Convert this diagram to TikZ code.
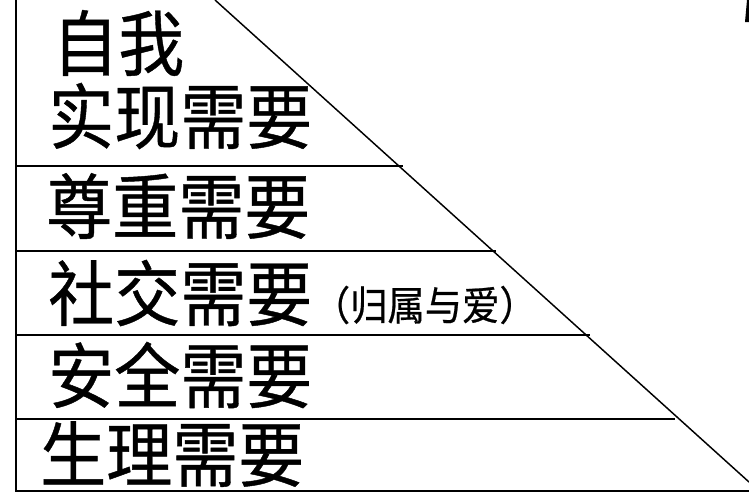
\documentclass[tikz,border=0pt]{standalone}
\usepackage{fontspec}
\setmainfont{Noto Sans CJK SC}
\newfontfamily\levelfont{Noto Sans CJK SC}[FakeBold=0.6]
\newcommand{\tallcjk}[1]{\scalebox{1}[1.08]{#1}}
\usetikzlibrary{positioning}
\begin{document}
\begin{tikzpicture}[x=0.75pt,y=-0.75pt,
  level/.style={anchor=west,inner sep=0pt,font=\levelfont\fontsize{49.5}{50}\selectfont},
  note/.style={anchor=west,inner sep=0pt,font=\levelfont\fontsize{28}{30}\selectfont},
  frame/.style={line width=1.1pt},
  divider/.style={line width=1.5pt}]
  \useasboundingbox (0,0) rectangle (749,493);
  % outer frame and slope
  \coordinate (top left) at (16,0);
  \coordinate (bottom left) at (16,491);
  \coordinate (bottom right) at (749,491);
  \coordinate (apex) at (215,0);
  \coordinate (foot) at (749,482);
  \draw[frame] (top left) -- (bottom left) -- (bottom right);
  \draw[frame] (apex) -- (foot);
  % dividers between the levels
  \foreach \y/\x [count=\i] in {166/403, 251/496, 335/590, 419/675}{
    \coordinate (d\i a) at (16,\y);
    \coordinate (d\i b) at (\x,\y);
    \draw[divider] (d\i a) -- (d\i b);
  }
  % levels
  \node[level] (self)     at (52,43)  {\tallcjk{自我}};
  \node[level] (realize)  at (48,116) {\tallcjk{实现需要}};
  \node[level] (esteem)   at (46,206) {\tallcjk{尊重需要}};
  \node[level] (social)   at (48,293) {\tallcjk{社交需要}};
  \node[note, right=0pt of social.east, yshift=-9pt] (belong) {\tallcjk{（归属与爱）}};
  \node[level] (safety)   at (48,375) {\tallcjk{安全需要}};
  \node[level] (body)     at (40,454) {\tallcjk{生理需要}};
  % fragment at the corner
  \fill (745,22) -- (749,22) -- (751,0) -- (747,0) -- cycle;
\end{tikzpicture}
\end{document}
